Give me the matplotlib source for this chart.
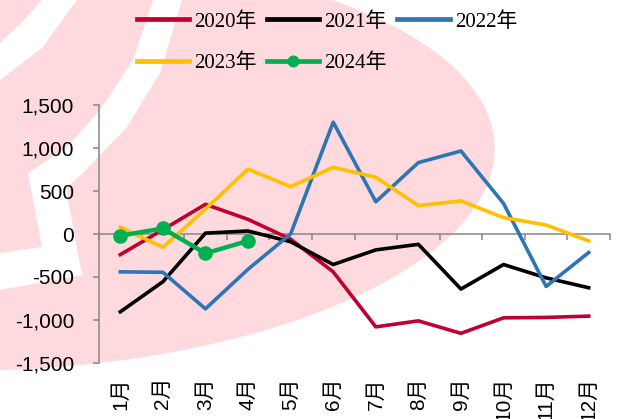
import matplotlib.pyplot as plt
from matplotlib.patches import Ellipse, Polygon
from matplotlib.ticker import FuncFormatter, FixedLocator

plt.rcParams['font.family'] = ['Liberation Sans', 'Noto Sans CJK SC']

months = ['1月', '2月', '3月', '4月', '5月', '6月', '7月', '8月', '9月', '10月', '11月', '12月']
y2020 = [-240, 50, 345, 170, -60, -440, -1080, -1010, -1155, -975, -970, -955]
y2021 = [-905, -555, 10, 35, -90, -355, -185, -120, -640, -355, -510, -625]
y2022 = [-440, -445, -870, -410, 0, 1300, 375, 830, 965, 355, -610, -215]
y2023 = [80, -155, 290, 755, 550, 775, 660, 330, 385, 190, 105, -80]
y2024 = [-20, 65, -225, -80]

W, H = 619, 419
fig = plt.figure(figsize=(W / 100, H / 100), dpi=100)

# pink watermark in the back, drawn in pixel coords
bg = fig.add_axes([0, 0, 1, 1], zorder=0)
bg.set_xlim(0, W)
bg.set_ylim(H, 0)
bg.axis('off')
pink = '#fed9dd'
bg.add_patch(Ellipse((0, 163), 990, 414, angle=-2, color=pink, lw=0))
bg.add_patch(Polygon([(0, 43), (22, 22), (42, 0), (77, 0), (42, 48), (0, 80)],
                     color='white', lw=0))
bg.add_patch(Polygon([(153, 0), (133, 60), (100, 110), (67, 147), (28, 173), (42, 247), (0, 253),
                      (0, 290), (82, 275), (68, 200), (67, 187), (83, 173), (127, 127),
                      (160, 73), (182, 0)], color='white', lw=0))

ax = fig.add_axes([99 / W, 1 - 363 / H, 511 / W, 258 / H], zorder=1)
ax.set_facecolor('none')

x = list(range(len(months)))
l20, = ax.plot(x, y2020, color='#c00030', lw=2.6, label='2020年', zorder=3)
l21, = ax.plot(x, y2021, color='#000000', lw=2.6, label='2021年', zorder=3)
l22, = ax.plot(x, y2022, color='#2e75b6', lw=2.6, label='2022年', zorder=3)
l23, = ax.plot(x, y2023, color='#ffc000', lw=2.6, label='2023年', zorder=3)
l24, = ax.plot(x[:len(y2024)], y2024, color='#00b050', lw=3.2, marker='o', ms=9.5,
               label='2024年', zorder=4)

ax.set_xlim(-0.5, 11.5)
ax.set_ylim(-1500, 1500)
ax.set_yticks(range(-1500, 1501, 500))
ax.yaxis.set_major_formatter(FuncFormatter(lambda v, p: f'{int(v):,}'))

grey = '#868686'
for s in ['top', 'right']:
    ax.spines[s].set_visible(False)
ax.spines['left'].set_color(grey)
ax.spines['left'].set_linewidth(1.1)
ax.spines['bottom'].set_position(('data', 0))
ax.spines['bottom'].set_color(grey)
ax.spines['bottom'].set_linewidth(1.1)
ax.spines['bottom'].set_zorder(2)

ax.set_xticks(x)
ax.set_xticklabels(months, rotation=90)
ax.xaxis.set_minor_locator(FixedLocator([i - 0.5 for i in range(13)]))
ax.tick_params(axis='x', which='major', length=0, pad=103, labelsize=15)
ax.tick_params(axis='x', which='minor', length=4, width=1.1, color=grey, direction='out')
ax.tick_params(axis='y', length=4, width=1.1, color=grey, pad=14, labelsize=15)

handles = [l20, l23, l21, l24, l22]
leg = fig.legend(handles, [h.get_label() for h in handles], ncol=3, frameon=False,
                 loc='upper left', bbox_to_anchor=(137 / W, 1 - 12 / H),
                 prop={'family': ['Liberation Serif', 'Noto Sans CJK SC'], 'size': 15},
                 handlelength=2.5, handletextpad=0.25, columnspacing=0.5,
                 labelspacing=1.05, borderpad=0, borderaxespad=0, markerscale=0.8)
for h in leg.get_lines():
    h.set_linewidth(3.4)

fig.savefig('out.png', dpi=100)
